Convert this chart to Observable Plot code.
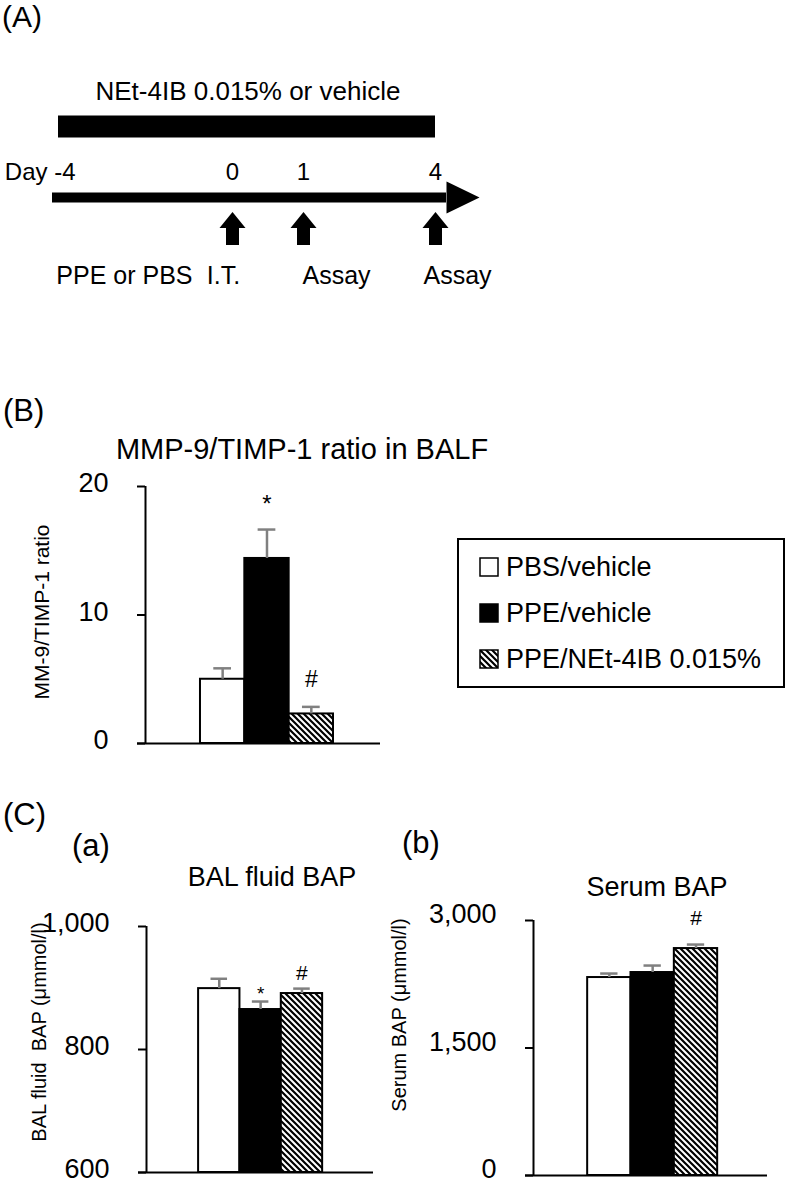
<!DOCTYPE html>
<html>
<head>
<meta charset="utf-8">
<script src="https://cdn.jsdelivr.net/npm/d3@7"></script>
<script src="https://cdn.jsdelivr.net/npm/@observablehq/plot@0.6"></script>
<style>
  body { margin: 0; background: #fff; }
  #fig { position: relative; width: 788px; height: 1185px; overflow: hidden;
         font-family: "Liberation Sans", Arial, sans-serif; color: #000; background: #fff; }
  .abs { position: absolute; white-space: pre; line-height: 1; }
  #fig svg.plotsvg { position: absolute; }
</style>
</head>
<body>
<div id="fig"></div>
<script>
// ---------------- DATA ----------------
// Groups (shared by all bar panels and the legend)
const groups = ["PBS/vehicle", "PPE/vehicle", "PPE/NEt-4IB 0.015%"];

// Panel (A): experimental timeline
const timelineDays = [-4, 0, 1, 4];
const dayLabels = ["-4", "0", "1", "4"];
const timelineEnd = 5;
const treatmentSpan = [-4, 4];
const treatmentLabel = "NEt-4IB 0.015% or vehicle";
const eventDays = [0, 1, 4];
const eventLabels = ["I.T.", "Assay", "Assay"];
const challengeLabel = "PPE or PBS";

// Panel (B): MMP-9/TIMP-1 ratio in BALF
const mmpRatio = [5.0, 14.4, 2.3];
const mmpRatioErr = [0.85, 2.25, 0.55];
const mmpSig = ["", "*", "#"];
const mmpTicks = [0, 10, 20];

// Panel (C)(a): BAL fluid BAP (μmmol/l)
const balBAP = [899, 865, 891];
const balBAPErr = [16, 13, 8];
const balSig = ["", "*", "#"];
const balTicks = [600, 800, 1000];

// Panel (C)(b): Serum BAP (μmmol/l)
const serumBAP = [2329, 2388, 2670];
const serumBAPErr = [47, 82, 47];
const serumSig = ["", "", "#"];
const serumTicks = [0, 1500, 3000];

// ---------------- STYLE ----------------
const FONT = '"Liberation Sans", Arial, sans-serif';
const groupFills = ["white", "black", "url(#hatch)"];
const errColor = "#808080";
const fig = document.getElementById("fig");
const commaFormat = d3.format(",");

// pattern definitions (shared by all svgs in the document)
fig.insertAdjacentHTML("beforeend",
  `<svg width="0" height="0" style="position:absolute;left:0;top:0"><defs>
     <pattern id="hatch" patternUnits="userSpaceOnUse" width="6" height="6">
       <rect width="6" height="6" fill="white"/>
       <path d="M-1,-1 L7,7 M-1,5 L1,7 M5,-1 L7,1" stroke="black" stroke-width="2.2"/>
     </pattern></defs></svg>`);

function addText(txt, {x, y, size, anchor = "start", rotate = false}) {
  const d = document.createElement("div");
  d.className = "abs";
  d.textContent = txt;
  d.style.fontSize = size + "px";
  d.style.left = x + "px";
  if (rotate) {
    d.style.top = y + "px";
    d.style.transform = "translate(-50%,-50%) rotate(-90deg)";
  } else {
    d.style.top = (y - 0.847 * size) + "px"; // y = baseline
    if (anchor === "middle") d.style.transform = "translateX(-50%)";
    if (anchor === "end") d.style.transform = "translateX(-100%)";
  }
  fig.appendChild(d);
  return d;
}

function place(svg, left, top) {
  svg.classList.add("plotsvg");
  svg.style.left = left + "px";
  svg.style.top = top + "px";
  fig.appendChild(svg);
}

// ---------------- PANEL A ----------------
const ROW = {title: 0, bar: 1, days: 2, line: 3, arrows: 4, labels: 5};
const upArrow = {draw(ctx) {
  ctx.moveTo(0, -16.5); ctx.lineTo(13, -0.5); ctx.lineTo(6.5, -0.5); ctx.lineTo(6.5, 16.5);
  ctx.lineTo(-6.5, 16.5); ctx.lineTo(-6.5, -0.5); ctx.lineTo(-13, -0.5); ctx.closePath();
}};
const rightHead = {draw(ctx) {
  ctx.moveTo(0, 0); ctx.lineTo(-33, -16); ctx.lineTo(-33, 16); ctx.closePath();
}};

const panelA = Plot.plot({
  width: 520, height: 300,
  marginLeft: 0, marginRight: 0, marginTop: 0, marginBottom: 0,
  style: {fontFamily: FONT, background: "transparent", color: "black", overflow: "visible"},
  x: {type: "linear", domain: timelineDays, range: [58, 232, 303, 435], axis: null},
  y: {type: "linear", domain: [0, 1, 2, 3, 4, 5], range: [91, 126, 172, 197, 228, 275], axis: null},
  marks: [
    Plot.text([treatmentLabel], {x: () => treatmentSpan[0], y: () => ROW.title, text: d => d,
      textAnchor: "start", dx: 37, fontSize: 26, fill: "black"}),
    Plot.ruleY([treatmentSpan], {x1: d => d[0], x2: d => d[1], y: () => ROW.bar,
      stroke: "black", strokeWidth: 22}),
    Plot.text([dayLabels[0]], {x: () => timelineDays[0], y: () => ROW.days, text: d => "Day " + d,
      textAnchor: "end", dx: 17, fontSize: 24, fill: "black"}),
    Plot.text(timelineDays.slice(1), {x: d => d, y: () => ROW.days,
      text: (d, i) => dayLabels[i + 1], fontSize: 24, fill: "black"}),
    Plot.ruleY([timelineEnd], {x1: () => timelineDays[0], x2: d => d, y: () => ROW.line,
      stroke: "black", strokeWidth: 10, insetLeft: -6, insetRight: 33}),
    Plot.dot([timelineEnd], {x: d => d, y: () => ROW.line, symbol: rightHead, fill: "black", stroke: "none"}),
    Plot.dot(eventDays, {x: d => d, y: () => ROW.arrows, symbol: upArrow, fill: "black", stroke: "none"}),
    Plot.text([challengeLabel], {x: () => eventDays[0], y: () => ROW.labels, text: d => d,
      textAnchor: "end", dx: -40, fontSize: 25, fill: "black"}),
    Plot.text([eventLabels[0]], {x: () => eventDays[0], y: () => ROW.labels, text: d => d,
      dx: -9, fontSize: 25, fill: "black"}),
    Plot.text([eventLabels[1]], {x: () => eventDays[1], y: () => ROW.labels, text: d => d,
      textAnchor: "start", dx: -1, fontSize: 25, fill: "black"}),
    Plot.text([eventLabels[2]], {x: () => eventDays[2], y: () => ROW.labels, text: d => d,
      textAnchor: "start", dx: -12, fontSize: 25, fill: "black"})
  ]
});
place(panelA, 0, 0);

// ---------------- BAR PANELS ----------------
function barPanel(cfg) {
  const rows = groups.map((g, i) => ({i, group: g, value: cfg.values[i], err: cfg.errors[i], sig: cfg.sig[i]}));
  const y0 = cfg.yDomain[0];
  const x0 = cfg.xDomain[0];
  const marks = [
    Plot.rect(rows, {x1: d => d.i, x2: d => d.i + 1, y1: y0, y2: d => d.value,
      fill: d => groupFills[d.i], stroke: "black", strokeWidth: 2}),
    Plot.ruleX(rows, {x: d => d.i + 0.5, y1: d => d.value, y2: d => d.value + d.err,
      stroke: errColor, strokeWidth: 2.5}),
    Plot.ruleY(rows, {x1: d => d.i + 0.3, x2: d => d.i + 0.7, y: d => d.value + d.err,
      stroke: errColor, strokeWidth: 2.5}),
    // y axis line
    Plot.ruleX([x0], {y1: cfg.yDomain[0], y2: cfg.yDomain[1], stroke: "black", strokeWidth: 2}),
    // x axis (baseline), extending out to the tick length
    Plot.ruleY([y0], {insetLeft: -8, stroke: "black", strokeWidth: 2}),
    // outward tick marks
    Plot.ruleY(cfg.ticks, {y: d => d, x1: x0, x2: x0, insetLeft: -8, stroke: "black", strokeWidth: 2}),
    // tick labels
    Plot.axisY({ticks: cfg.ticks, tickSize: 0, tickPadding: 37, tickFormat: commaFormat,
      fontSize: 27, dy: cfg.tickDy, fill: "black", label: null})
  ];
  for (const [sym, st] of Object.entries(cfg.sigStyle)) {
    marks.push(Plot.text(rows.filter(d => d.sig === sym), {x: d => d.i + 0.5, y: d => d.value + d.err,
      text: d => d.sig, dy: st.dy, fontSize: st.size, fill: "black"}));
  }
  const svg = Plot.plot({
    width: cfg.width, height: cfg.height,
    marginLeft: cfg.margin[0], marginRight: cfg.margin[1], marginTop: cfg.margin[2], marginBottom: cfg.margin[3],
    style: {fontFamily: FONT, background: "transparent", color: "black", overflow: "visible"},
    x: {type: "linear", domain: cfg.xDomain, axis: null},
    y: {type: "linear", domain: cfg.yDomain},
    color: {type: "identity"},
    marks
  });
  place(svg, cfg.left, cfg.top);
}

barPanel({
  values: mmpRatio, errors: mmpRatioErr, sig: mmpSig, ticks: mmpTicks,
  yDomain: [0, 20], xDomain: [-1.24, 4.06], tickDy: -3,
  left: 0, top: 470, width: 420, height: 290, margin: [145, 40, 16, 17],
  sigStyle: {"*": {dy: -25, size: 24}, "#": {dy: -27, size: 23}}
});
barPanel({
  values: balBAP, errors: balBAPErr, sig: balSig, ticks: balTicks,
  yDomain: [600, 1000], xDomain: [-1.26, 4.23], tickDy: -3,
  left: 0, top: 900, width: 420, height: 283, margin: [146, 47, 26, 11],
  sigStyle: {"*": {dy: -8, size: 19}, "#": {dy: -15, size: 21}}
});
barPanel({
  values: serumBAP, errors: serumBAPErr, sig: serumSig, ticks: serumTicks,
  yDomain: [0, 3000], xDomain: [-1.25, 4.15], tickDy: -6,
  left: 380, top: 900, width: 408, height: 283, margin: [153, 21, 20, 8],
  sigStyle: {"#": {dy: -26, size: 21}}
});

// ---------------- TEXT LABELS ----------------
addText("(A)", {x: 2, y: 27, size: 30});
addText("(B)", {x: 3, y: 421, size: 31});
addText("(C)", {x: 3, y: 825, size: 31});
addText("(a)", {x: 72, y: 856, size: 31});
addText("(b)", {x: 402, y: 853, size: 31});

addText("MMP-9/TIMP-1 ratio in BALF", {x: 302, y: 460, size: 29, anchor: "middle"});
addText("BAL fluid BAP", {x: 272, y: 887, size: 27, anchor: "middle"});
addText("Serum BAP", {x: 657, y: 897, size: 27, anchor: "middle"});

addText("MM-9/TIMP-1 ratio", {x: 41, y: 612, size: 21, rotate: true});
addText("BAL fluid  BAP (μmmol/l)", {x: 39, y: 1032, size: 20, rotate: true});
addText("Serum BAP (μmmol/l)", {x: 399, y: 1015, size: 20, rotate: true});

// ---------------- LEGEND ----------------
const box = document.createElement("div");
box.style.cssText = "position:absolute;left:457px;top:538px;width:328px;height:150px;border:2px solid #000;box-sizing:border-box;background:#fff;";
fig.appendChild(box);
const legendCenters = [567, 613, 659];
groups.forEach((g, i) => {
  const cy = legendCenters[i];
  fig.insertAdjacentHTML("beforeend",
    `<svg width="20" height="20" style="position:absolute;left:479px;top:${cy - 10}px">
       <rect x="1" y="1" width="18" height="18" fill="${groupFills[i]}" stroke="black" stroke-width="1.5"/></svg>`);
  addText(g, {x: 506, y: cy + 9.7, size: 27});
});
</script>
</body>
</html>
